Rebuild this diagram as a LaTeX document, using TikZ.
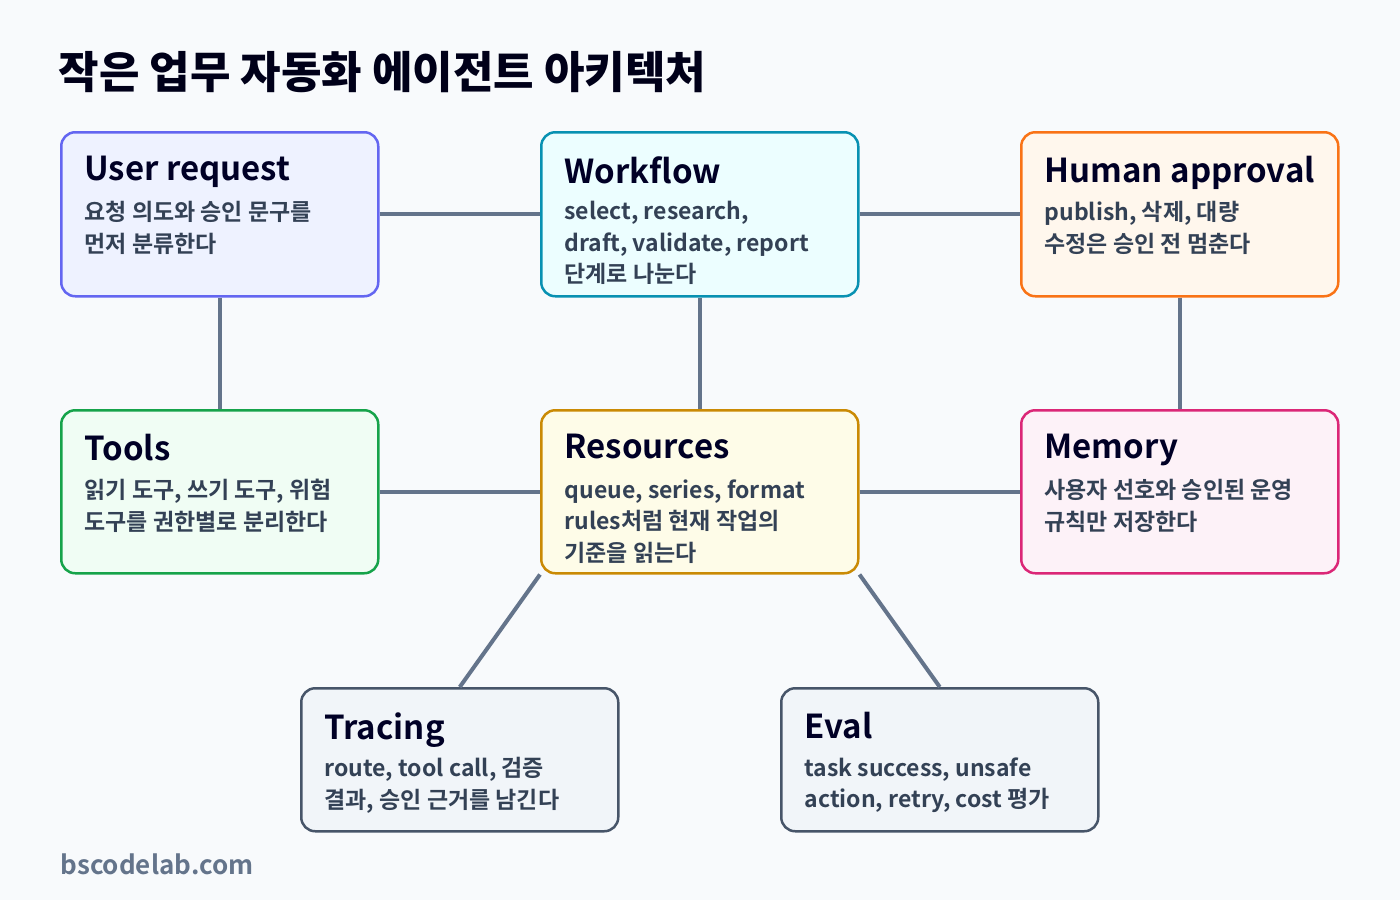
\documentclass[tikz,border=0pt]{standalone}
\usepackage{fontspec}
\setmainfont{Noto Sans CJK KR}[BoldFont={* Bold}]
\newfontfamily\krblack{Noto Sans CJK KR Black}
\begin{document}
\begin{tikzpicture}[x=1pt,y=-1pt,
  box/.style={draw=#1,line width=2.5pt,rounded corners=14pt,minimum width=317pt,anchor=north west,inner sep=0pt},
  ttl/.style={anchor=north west,font=\fontsize{33}{38}\selectfont\bfseries,text=black!85!blue},
  bod/.style={anchor=north west,font=\fontsize{23}{31.5}\selectfont\bfseries,text=tx,align=left},
  con/.style={draw=cn,line width=4pt}]
\definecolor{bg}{HTML}{F8FAFC}\definecolor{tx}{HTML}{334155}\definecolor{cn}{HTML}{64748B}
\definecolor{c1}{HTML}{6366F1}\definecolor{f1}{HTML}{EEF2FF}
\definecolor{c2}{HTML}{0891B2}\definecolor{f2}{HTML}{ECFEFF}
\definecolor{c3}{HTML}{F97316}\definecolor{f3}{HTML}{FFF7ED}
\definecolor{c4}{HTML}{16A34A}\definecolor{f4}{HTML}{F0FDF4}
\definecolor{c5}{HTML}{CA8A04}\definecolor{f5}{HTML}{FEFCE8}
\definecolor{c6}{HTML}{DB2777}\definecolor{f6}{HTML}{FDF2F8}
\definecolor{c7}{HTML}{475569}\definecolor{f7}{HTML}{F1F5F9}
\fill[bg] (0,0) rectangle (1400,900);
\useasboundingbox (0,0) rectangle (1400,900);
\node[anchor=west,font=\fontsize{44}{48}\krblack,text=black!90!blue] (title) at (55,72) {작은 업무 자동화 에이전트 아키텍처};
\node[box=c1,fill=f1,minimum height=164pt] (u) at (60,131) {};
\node[box=c2,fill=f2,minimum height=164pt] (w) at (540,131) {};
\node[box=c3,fill=f3,minimum height=164pt] (h) at (1020,131) {};
\node[box=c4,fill=f4,minimum height=163pt] (t) at (60,409) {};
\node[box=c5,fill=f5,minimum height=163pt] (r) at (540,409) {};
\node[box=c6,fill=f6,minimum height=163pt] (m) at (1020,409) {};
\node[box=c7,fill=f7,minimum height=143pt] (tr) at (300,687) {};
\node[box=c7,fill=f7,minimum height=143pt] (ev) at (780,687) {};
\draw[con] (u.east) -- (w.west); \draw[con] (w.east) -- (h.west);
\draw[con] (u.south) -- (t.north); \draw[con] (w.south) -- (r.north); \draw[con] (h.south) -- (m.north);
\draw[con] (t.east) -- (r.west); \draw[con] (r.east) -- (m.west);
\draw[con] (r.south west) -- (tr.north); \draw[con] (r.south east) -- (ev.north);
\foreach \n/\a/\b in {u/User request/{요청 의도와 승인 문구를\\먼저 분류한다},
  w/Workflow/{select, research,\\draft, validate, report\\단계로 나눈다},
  h/Human approval/{publish, 삭제, 대량\\수정은 승인 전 멈춘다},
  t/Tools/{읽기 도구, 쓰기 도구, 위험\\도구를 권한별로 분리한다},
  r/Resources/{queue, series, format\\rules처럼 현재 작업의\\기준을 읽는다},
  m/Memory/{사용자 선호와 승인된 운영\\규칙만 저장한다},
  tr/Tracing/{route, tool call, 검증\\결과, 승인 근거를 남긴다},
  ev/Eval/{task success, unsafe\\action, retry, cost 평가}}{
  \node[ttl] (\n t) at ([xshift=21pt,yshift=-22pt]\n.north west) {\a};
  \node[bod] (\n b) at ([xshift=21pt,yshift=-67pt]\n.north west) {\b};
}
\node[anchor=west,font=\fontsize{26}{30}\selectfont\bfseries,text=cn] (site) at (57,864) {bscodelab.com};
\end{tikzpicture}
\end{document}
